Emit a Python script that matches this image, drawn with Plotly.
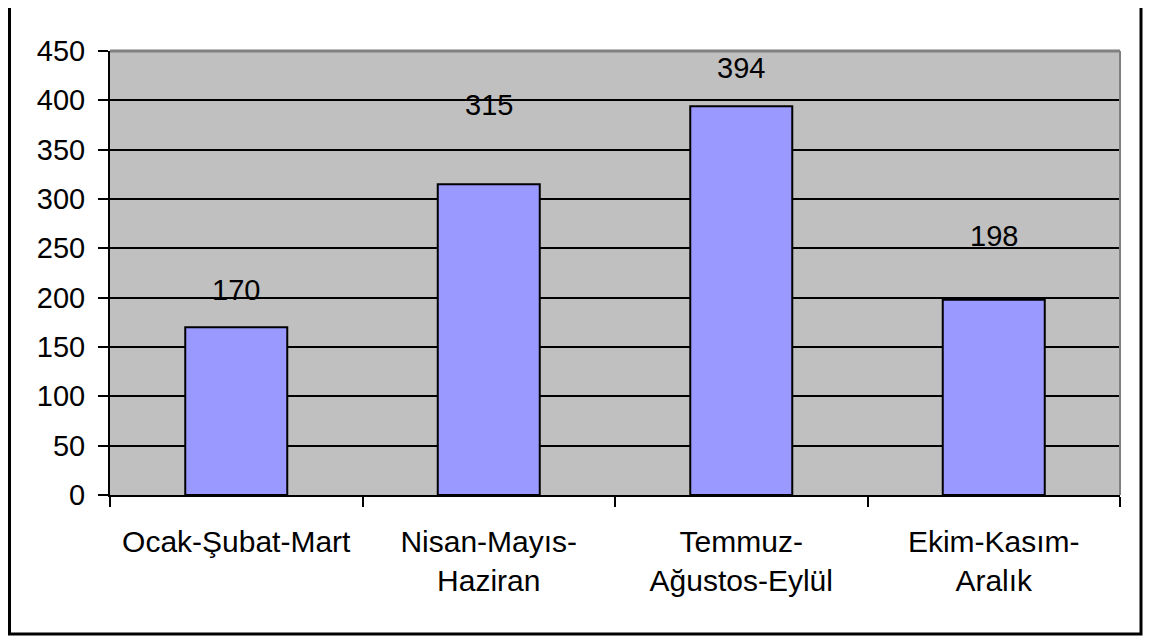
import plotly.graph_objects as go

categories = ["Ocak-Şubat-Mart", "Nisan-Mayıs-<br>Haziran", "Temmuz-<br>Ağustos-Eylül", "Ekim-Kasım-<br>Aralık"]
values = [170, 315, 394, 198]
label_heights = [208, 395, 433, 263]
y_ticks = [0, 50, 100, 150, 200, 250, 300, 350, 400, 450]

FONT = "Liberation Sans, Arial, sans-serif"

fig = go.Figure()
fig.add_trace(go.Bar(
    x=categories, y=values,
    marker=dict(color="#9999FF", line=dict(color="black", width=2)),
    width=0.404,
    hoverinfo="skip",
))

for c, v, h in zip(categories, values, label_heights):
    fig.add_annotation(x=c, y=h, text=str(v), showarrow=False,
                       xanchor="center", yanchor="middle",
                       font=dict(family=FONT, size=29, color="black"))

fig.update_layout(
    width=1147, height=630,
    margin=dict(l=102, r=35, t=43, b=143),
    paper_bgcolor="white",
    plot_bgcolor="#C0C0C0",
    showlegend=False,
    font=dict(family=FONT, size=29, color="black"),
    xaxis=dict(
        type="category",
        showgrid=False,
        showline=True, linecolor="black", linewidth=2,
        ticks="outside", ticklen=10, tickwidth=2, tickcolor="black",
        tickson="boundaries",
        ticklabelstandoff=19,
        tickfont=dict(family=FONT, size=30, color="black"),
    ),
    yaxis=dict(
        range=[0, 450],
        tickvals=y_ticks,
        showgrid=True, gridcolor="black", gridwidth=2,
        showline=True, linecolor="black", linewidth=2,
        ticks="outside", ticklen=10, tickwidth=2, tickcolor="black",
        ticklabelstandoff=7,
        zeroline=False,
        tickfont=dict(family=FONT, size=29, color="black"),
    ),
    shapes=[
        dict(type="line", xref="paper", yref="paper", x0=0, x1=1, y0=1, y1=1,
             line=dict(color="#808080", width=3), layer="above"),
        dict(type="line", xref="paper", yref="paper", x0=1, x1=1, y0=0, y1=1,
             line=dict(color="#808080", width=2), layer="above"),
        dict(type="rect", xref="paper", yref="paper",
             x0=-0.0995, x1=1.0208, y0=-0.313, y1=1.2,
             line=dict(color="black", width=3), fillcolor="rgba(0,0,0,0)", layer="below"),
    ],
)

fig.write_html("out.html")
